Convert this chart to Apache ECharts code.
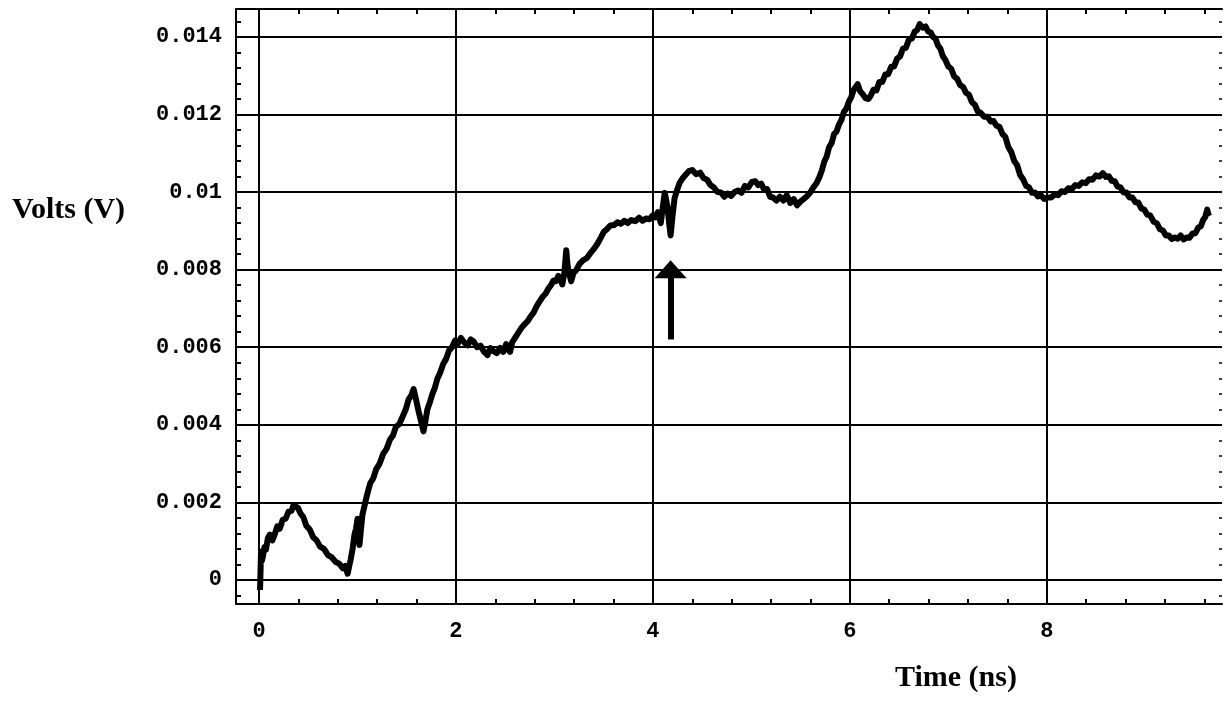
<!DOCTYPE html>
<html>
<head>
<meta charset="utf-8">
<script src="https://cdn.jsdelivr.net/npm/echarts@6/dist/echarts.min.js"></script>
<style>html,body{margin:0;padding:0;background:#fff;}#c{width:1225px;height:701px;}</style>
</head>
<body>
<div id="c"></div>
<script>
// ---- data ----
const xLabelValues = [0, 2, 4, 6, 8];
const xLabelTexts = ['0', '2', '4', '6', '8'];
const yLabelValues = [0, 0.002, 0.004, 0.006, 0.008, 0.01, 0.012, 0.014];
const yLabelTexts = ['0', '0.002', '0.004', '0.006', '0.008', '0.01', '0.012', '0.014'];
const xMinorTicks = [0, 0.4, 0.8, 1.2, 1.6, 2, 2.4, 2.8, 3.2, 3.6, 4, 4.4, 4.8, 5.2, 5.6, 6, 6.4, 6.8, 7.2, 7.6, 8, 8.4, 8.8, 9.2, 9.6];
const yMinorTicks = [-0.0004, 0, 0.0004, 0.0008, 0.0012, 0.0016, 0.002, 0.0024, 0.0028, 0.0032, 0.0036, 0.004, 0.0044, 0.0048, 0.0052, 0.0056, 0.006, 0.0064, 0.0068, 0.0072, 0.0076, 0.008, 0.0084, 0.0088, 0.0092, 0.0096, 0.01, 0.0104, 0.0108, 0.0112, 0.0116, 0.012, 0.0124, 0.0128, 0.0132, 0.0136, 0.014, 0.0144];
const arrowFrom = [4.18, 0.0062];
const arrowTo = [4.18, 0.00801];
// measured trace: [time (ns), volts]
const trace = [
[0.01,-0.00026],[0.015,0.0002],[0.02,0.00073],[0.03,0.0005],[0.04,0.00062],[0.055,0.00085],[0.07,0.00078],[0.09,0.00108],[0.11,0.00117],[0.135,0.00102],[0.16,0.00118],[0.185,0.00138],[0.21,0.00132],[0.24,0.00155],[0.27,0.00158],[0.30,0.00176],[0.33,0.00178],[0.35,0.00193],[0.37,0.00192],[0.395,0.00186],[0.42,0.00172],[0.45,0.00162],[0.48,0.00140],[0.515,0.00130],[0.55,0.00110],[0.585,0.00102],[0.62,0.00086],[0.66,0.00080],[0.70,0.00064],[0.74,0.00058],[0.78,0.00046],[0.815,0.00042],[0.85,0.00030],[0.875,0.00036],[0.90,0.00016],[0.915,0.00035],[0.93,0.00052],[0.95,0.0008],[0.97,0.00118],[0.985,0.00132],[1.00,0.00158],[1.01,0.0012],[1.02,0.0009],[1.035,0.0013],[1.05,0.00168],[1.07,0.00190],[1.09,0.00212],[1.11,0.00232],[1.13,0.00250],[1.16,0.00262],[1.19,0.00286],[1.225,0.00300],[1.26,0.00325],[1.295,0.00338],[1.33,0.00362],[1.36,0.00372],[1.39,0.00395],[1.425,0.00402],[1.46,0.00422],[1.49,0.00440],[1.52,0.00466],[1.545,0.00475],[1.57,0.00492],[1.595,0.00465],[1.62,0.00435],[1.645,0.0041],[1.67,0.00383],[1.69,0.0041],[1.71,0.00440],[1.735,0.00458],[1.76,0.00479],[1.785,0.00495],[1.81,0.00518],[1.84,0.00535],[1.87,0.00557],[1.90,0.00570],[1.93,0.00592],[1.96,0.00600],[1.99,0.00617],[2.02,0.00610],[2.05,0.00624],[2.085,0.00612],[2.12,0.00605],[2.15,0.00620],[2.18,0.00615],[2.215,0.00600],[2.25,0.00604],[2.285,0.00588],[2.32,0.00580],[2.35,0.00598],[2.38,0.00590],[2.415,0.00585],[2.45,0.00598],[2.48,0.00588],[2.51,0.00608],[2.53,0.00595],[2.55,0.00588],[2.57,0.00612],[2.59,0.00620],[2.61,0.00628],[2.63,0.00636],[2.665,0.00650],[2.70,0.00660],[2.73,0.00668],[2.76,0.00680],[2.79,0.00690],[2.82,0.00706],[2.85,0.00718],[2.88,0.00730],[2.91,0.00738],[2.94,0.00752],[2.965,0.00760],[2.99,0.00772],[3.015,0.00770],[3.04,0.00784],[3.06,0.00776],[3.08,0.00762],[3.10,0.00790],[3.12,0.00850],[3.13,0.0082],[3.14,0.00800],[3.155,0.00785],[3.17,0.00770],[3.195,0.00792],[3.22,0.00798],[3.255,0.00815],[3.29,0.00824],[3.33,0.00830],[3.37,0.00844],[3.405,0.00855],[3.44,0.00868],[3.47,0.00882],[3.50,0.00897],[3.535,0.00905],[3.57,0.00914],[3.605,0.00915],[3.64,0.00922],[3.675,0.00918],[3.71,0.00926],[3.745,0.00920],[3.78,0.00928],[3.82,0.00925],[3.86,0.00934],[3.895,0.00926],[3.93,0.00932],[3.965,0.00930],[4.00,0.00940],[4.025,0.00935],[4.05,0.00948],[4.065,0.00935],[4.08,0.00920],[4.10,0.00960],[4.12,0.00998],[4.135,0.0098],[4.15,0.00958],[4.165,0.0092],[4.18,0.00888],[4.20,0.00940],[4.22,0.00984],[4.245,0.01005],[4.27,0.01023],[4.30,0.01035],[4.33,0.01044],[4.365,0.01054],[4.40,0.01057],[4.44,0.01046],[4.48,0.01050],[4.515,0.01036],[4.55,0.01032],[4.585,0.01018],[4.62,0.01012],[4.655,0.01000],[4.69,0.00999],[4.725,0.00988],[4.76,0.00996],[4.795,0.00990],[4.83,0.01000],[4.865,0.01004],[4.90,0.00998],[4.935,0.01016],[4.97,0.01012],[5.005,0.01026],[5.04,0.01028],[5.07,0.01018],[5.10,0.01022],[5.13,0.01006],[5.16,0.01008],[5.19,0.00988],[5.22,0.00986],[5.255,0.00978],[5.29,0.00988],[5.325,0.00978],[5.36,0.00992],[5.395,0.00972],[5.43,0.00982],[5.465,0.00966],[5.50,0.00976],[5.53,0.00982],[5.56,0.00988],[5.595,0.00998],[5.63,0.01012],[5.66,0.01022],[5.69,0.01038],[5.715,0.01055],[5.74,0.01078],[5.765,0.01092],[5.79,0.01116],[5.815,0.01126],[5.84,0.01150],[5.865,0.01156],[5.89,0.01174],[5.915,0.01186],[5.94,0.01207],[5.965,0.01215],[5.99,0.01233],[6.015,0.01245],[6.04,0.01264],[6.06,0.01268],[6.08,0.01278],[6.105,0.01260],[6.13,0.01253],[6.16,0.01242],[6.19,0.01240],[6.215,0.01250],[6.24,0.01264],[6.27,0.01262],[6.30,0.01284],[6.33,0.01284],[6.36,0.01303],[6.39,0.01304],[6.42,0.01323],[6.45,0.01324],[6.48,0.01344],[6.51,0.01350],[6.54,0.01370],[6.57,0.01372],[6.60,0.01393],[6.63,0.01396],[6.66,0.01414],[6.685,0.01418],[6.71,0.01433],[6.74,0.01424],[6.77,0.01427],[6.795,0.01414],[6.82,0.01412],[6.845,0.01400],[6.87,0.01396],[6.895,0.01378],[6.92,0.01370],[6.945,0.01350],[6.97,0.01341],[7.00,0.01324],[7.03,0.01318],[7.06,0.01298],[7.09,0.01292],[7.12,0.01276],[7.15,0.01271],[7.18,0.01256],[7.21,0.01251],[7.24,0.01232],[7.27,0.01225],[7.30,0.01208],[7.33,0.01204],[7.365,0.01194],[7.40,0.01194],[7.43,0.01182],[7.46,0.01183],[7.49,0.01171],[7.52,0.01168],[7.55,0.01150],[7.58,0.01142],[7.61,0.01116],[7.64,0.01103],[7.67,0.01080],[7.70,0.01069],[7.73,0.01044],[7.76,0.01033],[7.79,0.01016],[7.82,0.01012],[7.85,0.00998],[7.88,0.00999],[7.91,0.00989],[7.94,0.00992],[7.975,0.00982],[8.01,0.00986],[8.045,0.00986],[8.08,0.00994],[8.115,0.00992],[8.15,0.01002],[8.185,0.01000],[8.22,0.01010],[8.255,0.01008],[8.29,0.01018],[8.325,0.01016],[8.36,0.01025],[8.395,0.01023],[8.43,0.01033],[8.465,0.01032],[8.50,0.01043],[8.535,0.01040],[8.57,0.01049],[8.60,0.01039],[8.63,0.01041],[8.66,0.01029],[8.69,0.01028],[8.72,0.01014],[8.75,0.01012],[8.78,0.00999],[8.81,0.00999],[8.84,0.00986],[8.87,0.00986],[8.90,0.00974],[8.93,0.00973],[8.96,0.00958],[8.99,0.00955],[9.02,0.00942],[9.05,0.00940],[9.085,0.00924],[9.12,0.00919],[9.15,0.00904],[9.18,0.00901],[9.21,0.00888],[9.24,0.00888],[9.27,0.00879],[9.30,0.00883],[9.33,0.00880],[9.36,0.00888],[9.39,0.00878],[9.42,0.00883],[9.45,0.00882],[9.48,0.00893],[9.51,0.00894],[9.54,0.00909],[9.565,0.00912],[9.59,0.00929],[9.61,0.00936],[9.63,0.00955],[9.64,0.00943],[9.65,0.00938]
];

// ---- chart ----
const X_MIN = -0.234, X_MAX = 9.78, Y_MIN = -0.00062, Y_MAX = 0.01472;
const monoFont = { fontFamily: '"Liberation Mono", "Courier New", monospace', fontWeight: 'bold', fontSize: 22, color: '#000' };
const serifFont = { fontFamily: '"Liberation Serif", "Times New Roman", serif', fontWeight: 'bold', fontSize: 30, color: '#000' };

function labelFor(values, texts) {
  return function (v) {
    for (let i = 0; i < values.length; i++) {
      if (Math.abs(values[i] - v) < 1e-9) return texts[i];
    }
    return '';
  };
}

const gridLines = xLabelValues.map(v => ({ xAxis: v })).concat(yLabelValues.map(v => ({ yAxis: v })));

const chart = echarts.init(document.getElementById('c'), null, { renderer: 'canvas' });
chart.setOption({
  animation: false,
  backgroundColor: '#fff',
  title: [
    { text: 'Volts (V)', left: 7, top: 190, textStyle: serifFont },
    { text: 'Time (ns)', left: 890, top: 658, textStyle: serifFont }
  ],
  grid: { left: 236, right: 3, top: 9, bottom: 97, containLabel: false },
  xAxis: [
    {
      type: 'value', position: 'bottom', min: X_MIN, max: X_MAX,
      axisLine: { show: true, onZero: false, lineStyle: { color: '#000', width: 2 } },
      axisTick: { show: true, inside: true, length: 5, customValues: xMinorTicks, lineStyle: { color: '#000', width: 2 } },
      axisLabel: { show: true, customValues: xLabelValues, formatter: labelFor(xLabelValues, xLabelTexts), margin: 16, ...monoFont },
      splitLine: { show: false }
    },
    {
      type: 'value', position: 'top', min: X_MIN, max: X_MAX,
      axisLine: { show: true, onZero: false, lineStyle: { color: '#000', width: 2 } },
      axisTick: { show: true, inside: true, length: 5, customValues: xMinorTicks, lineStyle: { color: '#000', width: 2 } },
      axisLabel: { show: false },
      splitLine: { show: false }
    }
  ],
  yAxis: [
    {
      type: 'value', position: 'left', min: Y_MIN, max: Y_MAX,
      axisLine: { show: true, onZero: false, lineStyle: { color: '#000', width: 2 } },
      axisTick: { show: true, inside: true, length: 5, customValues: yMinorTicks, lineStyle: { color: '#000', width: 2 } },
      axisLabel: { show: true, customValues: yLabelValues, formatter: labelFor(yLabelValues, yLabelTexts), margin: 14, ...monoFont },
      splitLine: { show: false }
    },
    {
      type: 'value', position: 'right', min: Y_MIN, max: Y_MAX,
      axisLine: { show: false, onZero: false },
      axisTick: { show: true, inside: true, length: 3, customValues: yMinorTicks, lineStyle: { color: '#000', width: 1.5 } },
      axisLabel: { show: false },
      splitLine: { show: false }
    }
  ],
  series: [
    {
      name: 'trace', type: 'line', xAxisIndex: 0, yAxisIndex: 0, z: 3,
      data: trace, showSymbol: false, symbol: 'none', smooth: false,
      lineStyle: { color: '#000', width: 6, join: 'round' },
      markLine: {
        z: 1, silent: true, precision: 8, symbol: ['none', 'none'], label: { show: false },
        lineStyle: { color: '#000', width: 2, type: 'solid' },
        data: gridLines
      }
    },
    {
      name: 'arrow', type: 'line', xAxisIndex: 0, yAxisIndex: 0, z: 4, data: [],
      markLine: {
        z: 6, silent: true, precision: 8, symbol: ['none', 'triangle'], symbolSize: [32, 18], label: { show: false },
        lineStyle: { color: '#000', width: 6, type: 'solid', opacity: 1 },
        data: [[{ coord: arrowFrom }, { coord: arrowTo }]]
      }
    }
  ]
});
</script>
</body>
</html>
